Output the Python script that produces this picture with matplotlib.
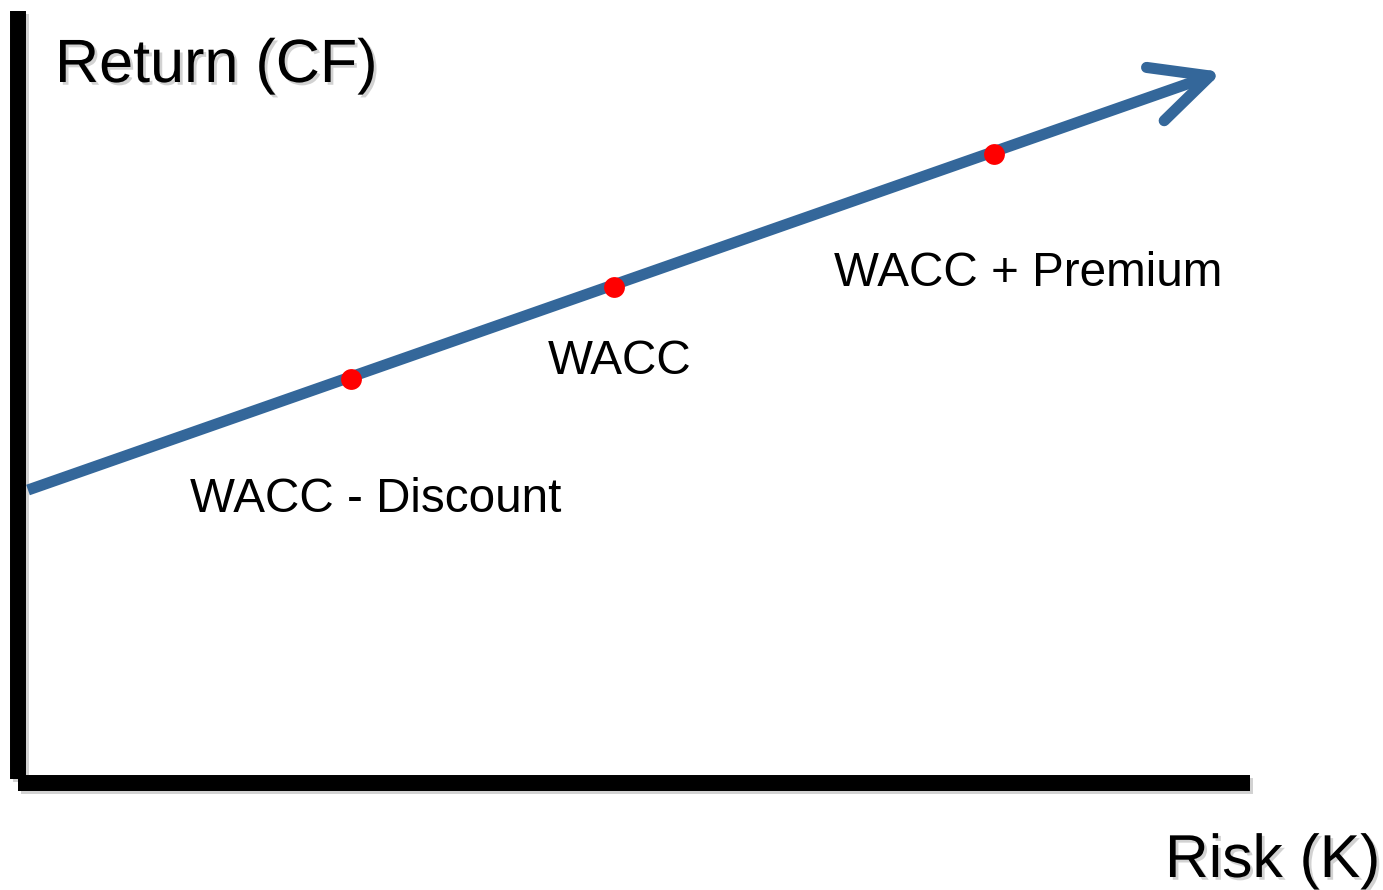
import numpy as np
import matplotlib
matplotlib.use('Agg')
import matplotlib.pyplot as plt
import matplotlib.patheffects as pe

plt.rcParams['font.family'] = ['Liberation Sans', 'DejaVu Sans']

# 坐标以画布像素为单位 (y 向下)
risk_line = [28, 1210]          # 风险-收益直线起止 x
return_line = [490, 76]         # 对应 y
point_x = [351, 614, 994]       # 三个红点
point_y = [379, 287, 154]
point_labels = ['WACC - Discount', 'WACC', 'WACC + Premium']
label_x = [190, 548, 834]
label_y = [512, 374, 286]
x_axis_label = 'Risk (K)'
y_axis_label = 'Return (CF)'

blue = '#34679A'

fig = plt.figure(figsize=(13.83, 8.90), dpi=100)
ax = fig.add_axes([0, 0, 1, 1])
ax.set_xlim(0, 1383)
ax.set_ylim(890, 0)
ax.axis('off')

shadow = [pe.SimpleLineShadow(offset=(2, -2), alpha=0.35, shadow_color='gray'), pe.Normal()]

# 坐标轴 (粗黑线)
ax.plot([18, 18], [11, 779], color='black', lw=11.5, solid_capstyle='butt', path_effects=shadow)
ax.plot([18, 1250], [783, 783], color='black', lw=11.5, solid_capstyle='butt', path_effects=shadow)

# 直线 + 箭头
ax.plot(risk_line, return_line, color=blue, lw=8, solid_capstyle='butt', zorder=3)
tip = np.array([risk_line[1], return_line[1]])
d = tip - np.array([risk_line[0], return_line[0]])
ang = np.arctan2(d[1], d[0])
for off in (np.radians(27), -np.radians(25)):
    a = ang + np.pi + off
    end = tip + 64 * np.array([np.cos(a), np.sin(a)])
    ax.plot([tip[0], end[0]], [tip[1], end[1]], color=blue, lw=8,
            solid_capstyle='round', zorder=3)

ax.plot(point_x, point_y, 'o', color='#FF0000', markersize=15, markeredgewidth=0, zorder=4)

for s, x, y in zip(point_labels, label_x, label_y):
    ax.text(x, y, s, fontsize=34.3, ha='left', va='baseline', color='black')

tshadow = [pe.withSimplePatchShadow(offset=(2, -2), alpha=0.35, shadow_rgbFace='gray')]
ax.text(55, 82, y_axis_label, fontsize=44, ha='left', va='baseline', path_effects=tshadow)
ax.text(1165, 877, x_axis_label, fontsize=43.6, ha='left', va='baseline', path_effects=tshadow)

fig.savefig('out.png', dpi=100)
